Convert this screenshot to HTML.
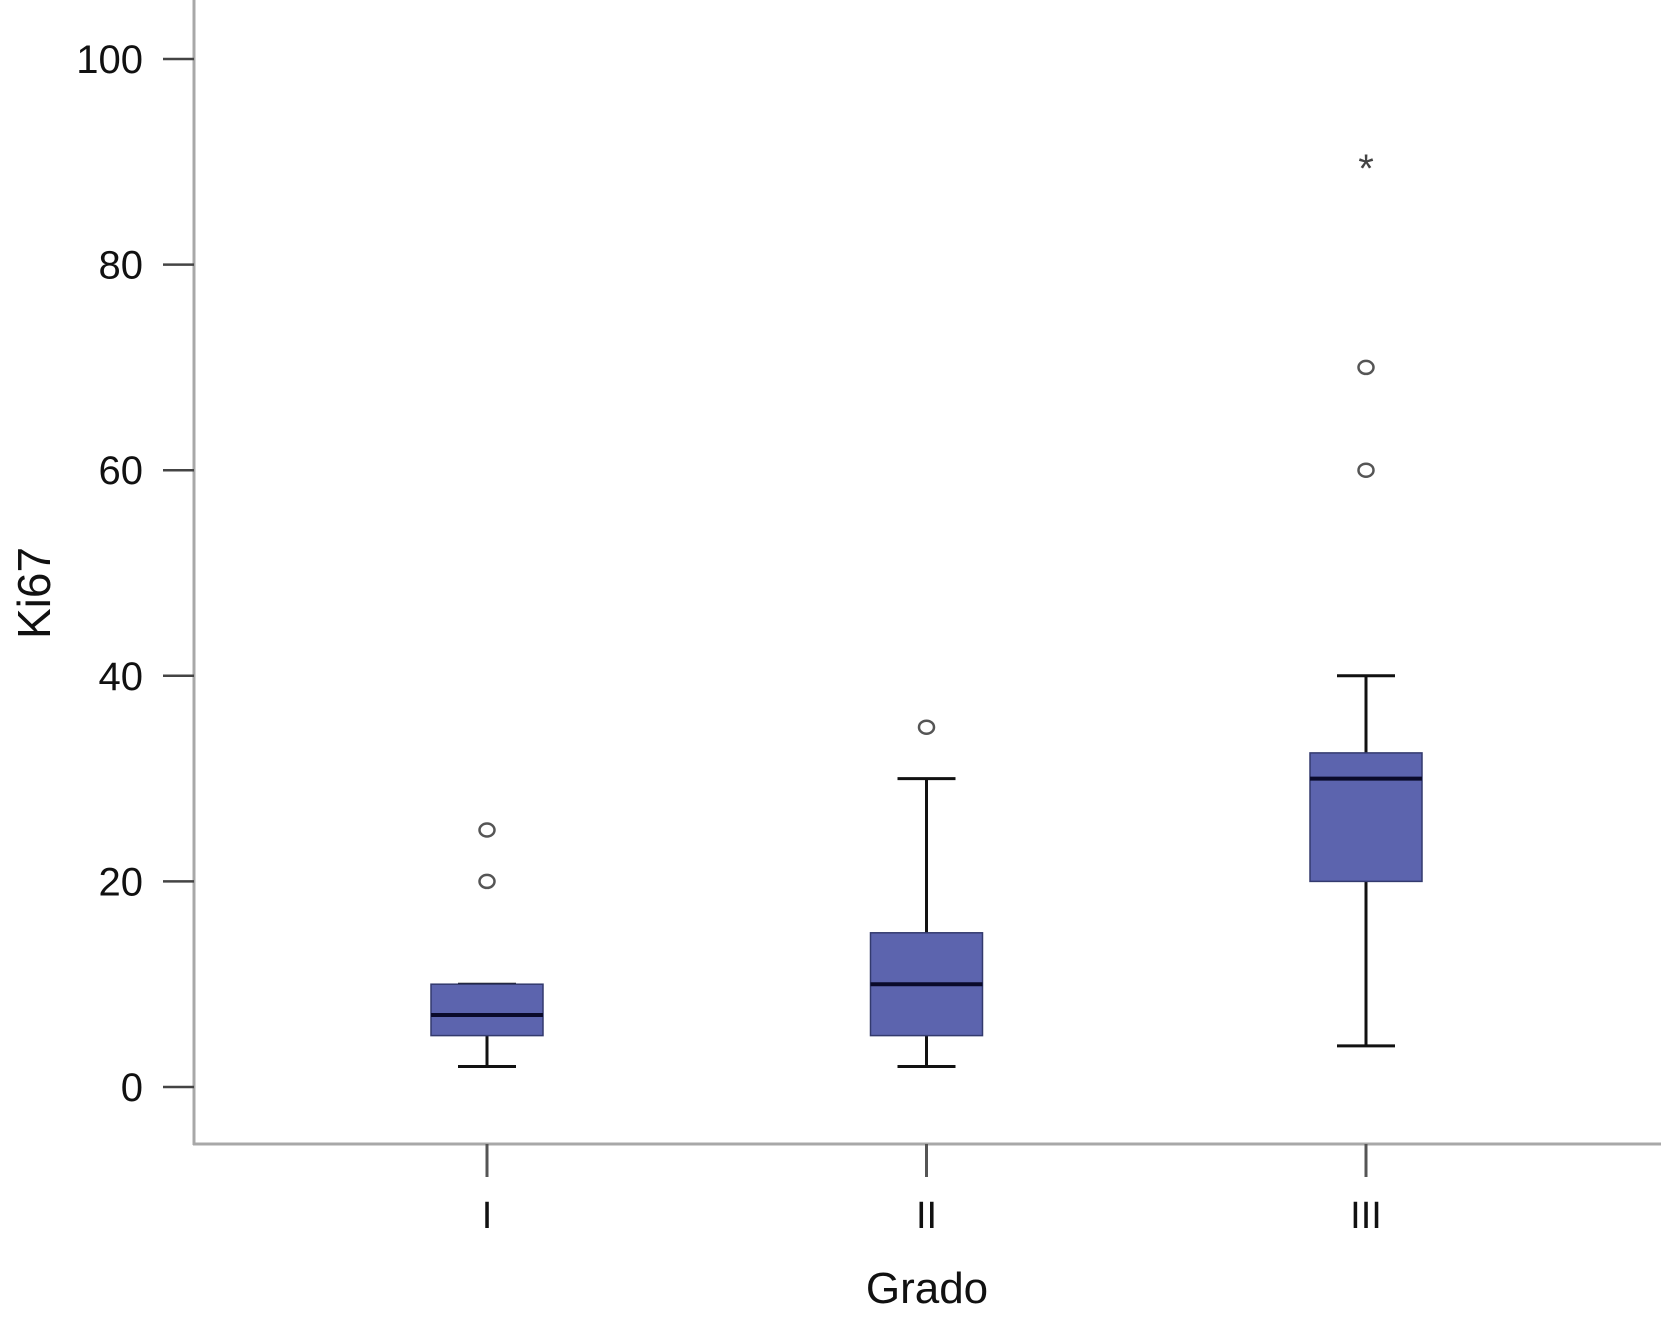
<!DOCTYPE html>
<html><head><meta charset="utf-8"><style>
html,body{margin:0;padding:0;background:#fff;}
svg{display:block;font-family:"Liberation Sans",Arial,sans-serif;}
</style></head><body>
<svg id="chart" width="1661" height="1326" viewBox="0 0 1661 1326" xmlns="http://www.w3.org/2000/svg">
<g id="axes"></g>
<g id="marks"></g>
</svg>
<script>
const categories = ["I", "II", "III"];
const whiskerLow = [2, 2, 4];
const q1 = [5, 5, 20];
const medians = [7, 10, 30];
const q3 = [10, 15, 32.5];
const whiskerHigh = [10, 30, 40];
const outliers = [[20, 25], [35], [60, 70]];
const extremes = [[], [], [90]];
const yTicks = [0, 20, 40, 60, 80, 100];

const NS = "http://www.w3.org/2000/svg";
const y0px = 1087, y100px = 59;
function yScale(v){ return y0px + (y100px - y0px) * v / 100; }
const catX = [487, 927, 1366];
function xScale(i){ return catX[0] + (catX[2]-catX[0]) * i / (categories.length-1); }
function mk(tag, attrs, parent){
  const e = document.createElementNS(NS, tag);
  for (const k in attrs) e.setAttribute(k, attrs[k]);
  parent.appendChild(e); return e;
}
const axes = document.getElementById('axes');
const marks = document.getElementById('marks');

let e = mk('line',{x1:194,y1:0,x2:194,y2:1145,stroke:'#a8a8a8','stroke-width':3},axes);


e = mk('line',{x1:193,y1:1144,x2:1661,y2:1144,stroke:'#a8a8a8','stroke-width':3},axes);



yTicks.forEach(t=>{
  const y = yScale(t);
  const tk = mk('line',{x1:163,y1:y,x2:194,y2:y,stroke:'#444','stroke-width':2.5},axes);
  
  
  const lb = mk('text',{x:143,y:y+14,'text-anchor':'end','font-size':40,fill:'#111'},axes);
  lb.textContent = t;
  
  
});
e = mk('text',{x:0,y:0,'text-anchor':'middle','font-size':46,fill:'#111',transform:'translate(50,593) rotate(-90)'},axes);
e.textContent='Ki67';


e = mk('text',{x:927,y:1303,'text-anchor':'middle','font-size':44,fill:'#111'},axes);
e.textContent='Grado';



categories.forEach((c,i)=>{
  const x = xScale(i);
  const tk = mk('line',{x1:x,y1:1144,x2:x,y2:1177,stroke:'#555','stroke-width':3},axes);
  
  
  const lb = mk('text',{x:x,y:1228,'text-anchor':'middle','font-size':38,fill:'#111'},axes);
  lb.textContent = c;
  
  

  const bw = 112, cw = 58;
  const w1 = mk('line',{x1:x,y1:yScale(whiskerLow[i]),x2:x,y2:yScale(q1[i]),stroke:'#111','stroke-width':3},marks);
  
  
  const w2 = mk('line',{x1:x,y1:yScale(q3[i]),x2:x,y2:yScale(whiskerHigh[i]),stroke:'#111','stroke-width':3},marks);
  
  
  const c1 = mk('line',{x1:x-cw/2,y1:yScale(whiskerLow[i]),x2:x+cw/2,y2:yScale(whiskerLow[i]),stroke:'#111','stroke-width':3},marks);
  
  
  const c2 = mk('line',{x1:x-cw/2,y1:yScale(whiskerHigh[i]),x2:x+cw/2,y2:yScale(whiskerHigh[i]),stroke:'#111','stroke-width':3},marks);
  
  
  const bx = mk('rect',{x:x-bw/2,y:yScale(q3[i]),width:bw,height:yScale(q1[i])-yScale(q3[i]),fill:'#5c64ae',stroke:'#333a6e','stroke-width':1.5},marks);
  
  
  const md = mk('line',{x1:x-bw/2,y1:yScale(medians[i]),x2:x+bw/2,y2:yScale(medians[i]),stroke:'#0a0a2a','stroke-width':4},marks);
  
  
  outliers[i].forEach(v=>{
    const o = mk('ellipse',{cx:x,cy:yScale(v),rx:7.5,ry:6.5,fill:'none',stroke:'#555','stroke-width':2.5},marks);
    
    
  });
  extremes[i].forEach(v=>{
    const s = mk('text',{x:x,y:yScale(v)+20,'text-anchor':'middle','font-size':40,fill:'#444'},marks);
    s.textContent='*';
    
    
  });
});
</script>
</body></html>
